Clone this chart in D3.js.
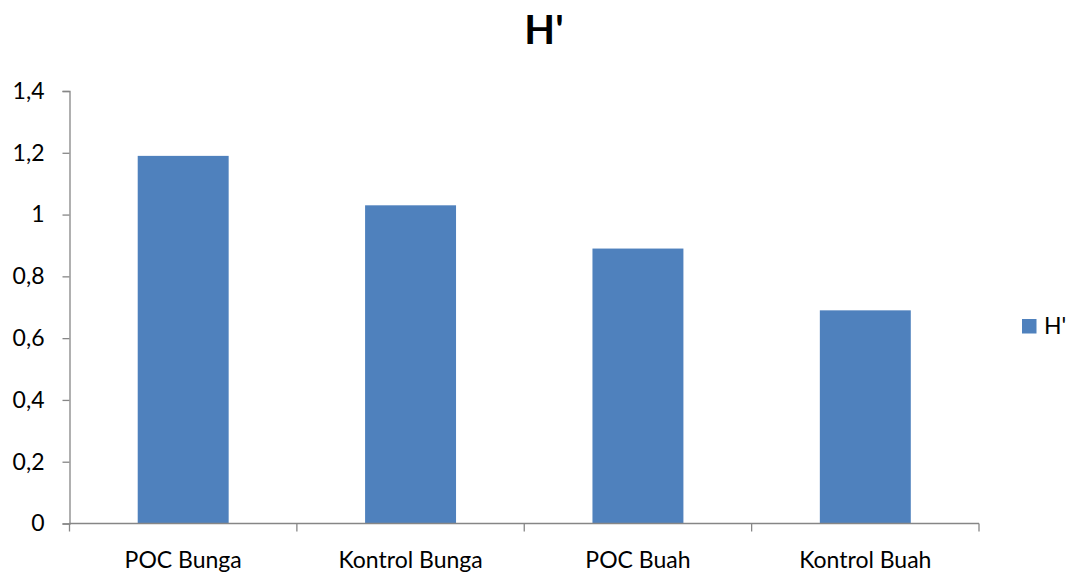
<!DOCTYPE html>
<html>
<head>
<meta charset="utf-8">
<script src="https://cdn.jsdelivr.net/npm/d3@7"></script>
<style>
  html, body { margin: 0; padding: 0; background: #fff; }
  svg { display: block; font-family: Lato, "Noto Sans", sans-serif; }
</style>
</head>
<body>
<svg id="chart" width="1066" height="574"></svg>
<script>
// Shannon diversity index (H') per treatment
const categories = ["POC Bunga", "Kontrol Bunga", "POC Buah", "Kontrol Buah"];
const values = [1.19, 1.03, 0.89, 0.69];
const seriesName = "H'";
const yTicks = [0, 0.2, 0.4, 0.6, 0.8, 1, 1.2, 1.4];

const svg = d3.select("#chart");
const margin = { left: 69.5, right: 87, top: 91, bottom: 50.5 };
const width = 1066, height = 574;
const axisColor = "#868686";
const labelSize = 23;

const x = d3.scaleBand()
  .domain(categories)
  .range([margin.left, width - margin.right])
  .paddingInner(0.6)
  .paddingOuter(0.3);

const y = d3.scaleLinear()
  .domain([0, 1.4])
  .range([height - margin.bottom, margin.top]);

const fmt = d => d3.format("")(d).replace(".", ",");

// y axis
const yAxis = svg.append("g")
  .attr("transform", `translate(${margin.left},0)`)
  .call(d3.axisLeft(y).tickValues(yTicks).tickFormat(fmt).tickSize(7).tickPadding(18));
yAxis.attr("font-family", null).attr("font-size", null);
yAxis.selectAll("text").attr("font-size", labelSize).attr("fill", "#000");
yAxis.select(".domain").attr("stroke", axisColor).attr("stroke-width", 1.3);
yAxis.selectAll(".tick line").attr("stroke", axisColor).attr("stroke-width", 1.3);

// bars
svg.append("g").selectAll("rect")
  .data(categories.map((c, i) => ({ c, v: values[i] })))
  .join("rect")
  .attr("x", d => x(d.c))
  .attr("width", x.bandwidth())
  .attr("y", d => y(d.v))
  .attr("height", d => y(0) - y(d.v))
  .attr("fill", "#4F81BD");

// x axis with ticks between categories
const xAxisG = svg.append("g")
  .attr("transform", `translate(0,${y(0)})`);
xAxisG.append("line")
  .attr("x1", margin.left).attr("x2", width - margin.right)
  .attr("stroke", axisColor).attr("stroke-width", 1.3);
const step = (width - margin.right - margin.left) / categories.length;
d3.range(categories.length + 1).forEach(i => {
  xAxisG.append("line")
    .attr("x1", margin.left + i * step).attr("x2", margin.left + i * step)
    .attr("y1", 0).attr("y2", 8)
    .attr("stroke", axisColor).attr("stroke-width", 1.3);
});
xAxisG.selectAll("text.cat")
  .data(categories)
  .join("text")
  .attr("class", "cat")
  .attr("x", d => x(d) + x.bandwidth() / 2)
  .attr("y", 44)
  .attr("text-anchor", "middle")
  .attr("font-size", labelSize)
  .attr("fill", "#000")
  .text(d => d);

// title
svg.append("text")
  .attr("x", 544)
  .attr("y", 44)
  .attr("text-anchor", "middle")
  .attr("font-size", 40)
  .attr("font-weight", "bold")
  .text(seriesName);

// legend
const legend = svg.append("g").attr("transform", "translate(1022,319)");
legend.append("rect").attr("width", 14.5).attr("height", 14.5).attr("fill", "#4F81BD");
legend.append("text").attr("x", 22).attr("y", 15).attr("font-size", labelSize).text(seriesName);
</script>
</body>
</html>
